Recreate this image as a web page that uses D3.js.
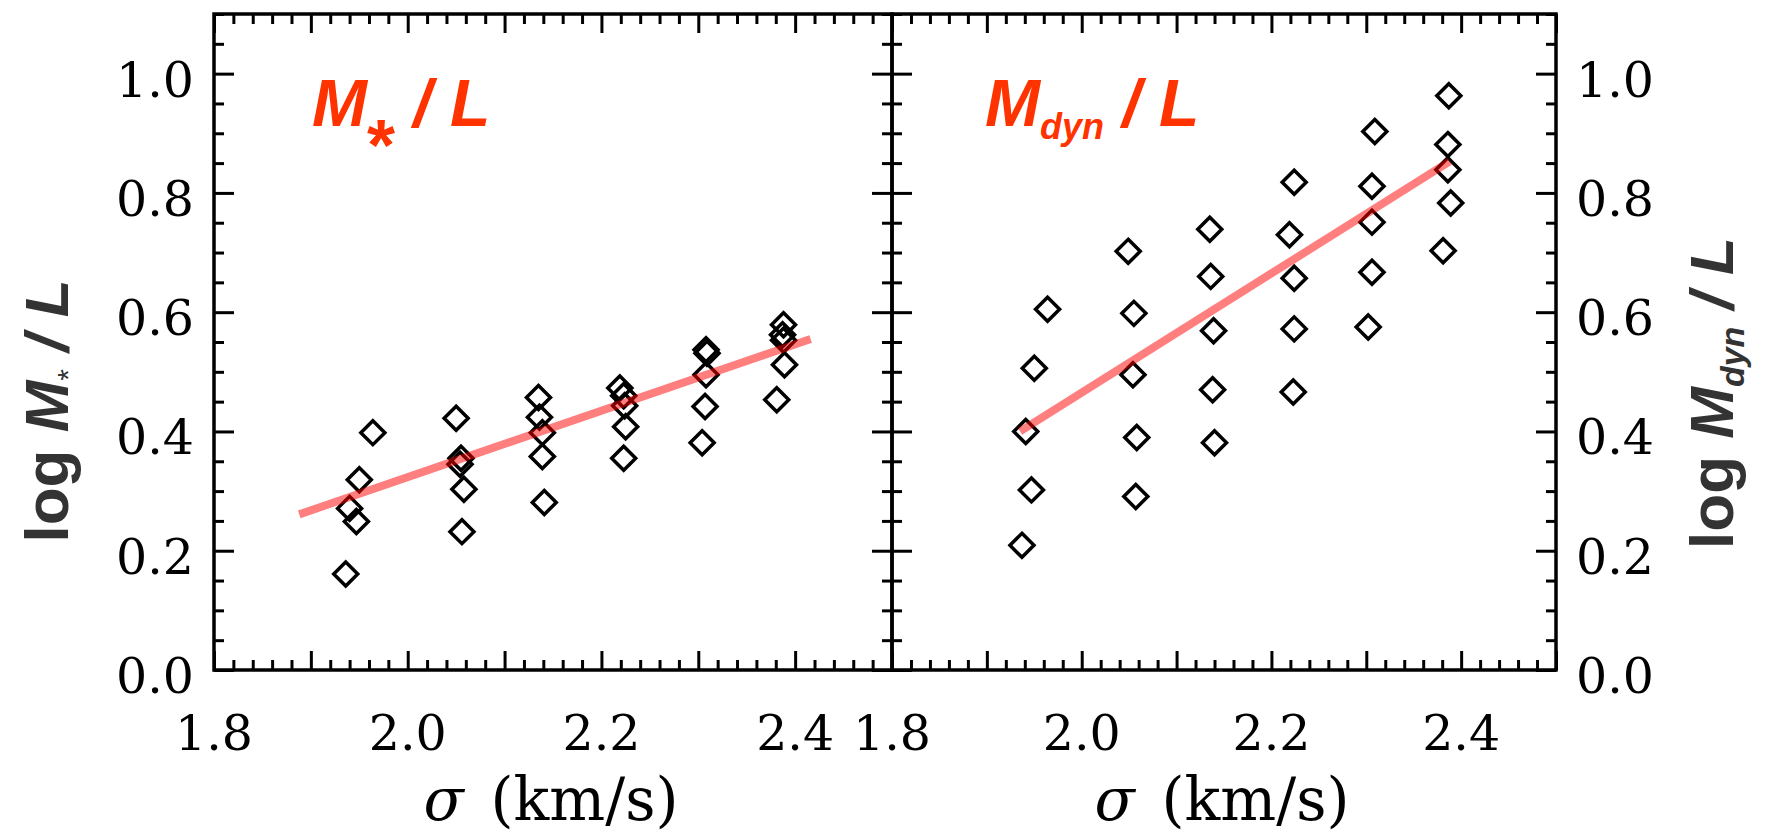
<!DOCTYPE html>
<html>
<head>
<meta charset="utf-8">
<script src="https://cdn.jsdelivr.net/npm/d3@7"></script>
<style>
  body { margin: 0; background: #fff; }
  svg { display: block; }
</style>
</head>
<body>
<svg id="chart" width="1768" height="836"></svg>
<script>
// Velocity dispersion (log sigma) and mass-to-light ratios for the sample
const starSigma = [1.964, 1.950, 1.940, 1.947, 1.936,
                   2.050, 2.055, 2.054, 2.058, 2.056,
                   2.135, 2.136, 2.139, 2.139, 2.141,
                   2.219, 2.223, 2.224, 2.225, 2.223,
                   2.308, 2.309, 2.308, 2.307, 2.304,
                   2.388, 2.387, 2.388, 2.389, 2.381];
const starML    = [0.398, 0.319, 0.271, 0.249, 0.161,
                   0.422, 0.355, 0.345, 0.303, 0.232,
                   0.457, 0.424, 0.398, 0.358, 0.281,
                   0.473, 0.460, 0.443, 0.408, 0.355,
                   0.537, 0.531, 0.495, 0.442, 0.381,
                   0.579, 0.562, 0.553, 0.512, 0.453];

const dynSigma  = [1.964, 1.950, 1.941, 1.947, 1.937,
                   2.049, 2.055, 2.054, 2.058, 2.057,
                   2.135, 2.136, 2.139, 2.138, 2.140,
                   2.224, 2.219, 2.224, 2.224, 2.223,
                   2.309, 2.306, 2.306, 2.306, 2.302,
                   2.387, 2.386, 2.386, 2.389, 2.381];
const dynML     = [0.605, 0.506, 0.400, 0.302, 0.209,
                   0.702, 0.598, 0.495, 0.390, 0.291,
                   0.739, 0.660, 0.569, 0.470, 0.381,
                   0.818, 0.730, 0.657, 0.572, 0.466,
                   0.903, 0.811, 0.751, 0.667, 0.575,
                   0.963, 0.881, 0.839, 0.783, 0.703];

// Linear fits (end points)
const starFitSigma = [1.888, 2.416];
const starFitML    = [0.261, 0.555];
const dynFitSigma  = [1.935, 2.388];
const dynFitML     = [0.400, 0.853];

// Axis ranges and ticks
const xDomain = [1.8, 2.5];
const yDomain = [0.0, 1.1];
const xMajorTicks = [1.8, 1.9, 2.0, 2.1, 2.2, 2.3, 2.4, 2.5];
const xTickLabels = [1.8, 2.0, 2.2, 2.4];
const yMajorTicks = [0.0, 0.2, 0.4, 0.6, 0.8, 1.0];
const yTickLabels = [0.0, 0.2, 0.4, 0.6, 0.8, 1.0];

const xMinorTicks = d3.range(0, 36).map(i => +(1.8 + i * 0.02).toFixed(2))
  .filter(v => !xMajorTicks.some(m => Math.abs(m - v) < 1e-6));
const yMinorTicks = d3.range(0, 23).map(i => +(i * 0.05).toFixed(2))
  .filter(v => !yMajorTicks.some(m => Math.abs(m - v) < 1e-6));

const svg = d3.select("#chart");
const plotTop = 14, plotBottom = 670;
const RED = "#ff3300";
const serif = "'DejaVu Serif', serif";
const sans = "'Liberation Sans', Arial, Helvetica, sans-serif";

const panels = [
  { x0: 214, x1: 892, sigma: starSigma, ml: starML, fitS: starFitSigma, fitM: starFitML, labelSide: "left" },
  { x0: 892, x1: 1556, sigma: dynSigma, ml: dynML, fitS: dynFitSigma, fitM: dynFitML, labelSide: "right" }
];

const y = d3.scaleLinear().domain(yDomain).range([plotBottom, plotTop]);

function tickGroup(parent, axis, transform) {
  const g = parent.append("g").attr("transform", transform).call(axis);
  g.select(".domain").remove();
  g.selectAll(".tick line").attr("stroke", "#000").attr("stroke-width", 3);
  g.selectAll(".tick text").remove();
  return g;
}

panels.forEach(p => {
  const x = d3.scaleLinear().domain(xDomain).range([p.x0, p.x1]);
  const g = svg.append("g");

  // data points: open diamonds
  const r = 12;
  const diamond = `M0,${-r}L${r},0L0,${r}L${-r},0Z`;
  g.append("g").selectAll("path")
    .data(p.sigma.map((s, i) => [s, p.ml[i]]))
    .join("path")
    .attr("d", diamond)
    .attr("transform", d => `translate(${x(d[0])},${y(d[1])})`)
    .attr("fill", "none")
    .attr("stroke", "#000")
    .attr("stroke-width", 3.5)
    .attr("stroke-linejoin", "miter");

  // best-fit line
  g.append("path")
    .datum(p.fitS.map((s, i) => [s, p.fitM[i]]))
    .attr("d", d3.line().x(d => x(d[0])).y(d => y(d[1])))
    .attr("fill", "none")
    .attr("stroke", "rgba(255,0,0,0.5)")
    .attr("stroke-width", 8);

  // ticks on all four sides, pointing inward
  tickGroup(g, d3.axisBottom(x).tickValues(xMajorTicks).tickSize(-19).tickSizeOuter(0), `translate(0,${plotBottom})`);
  tickGroup(g, d3.axisBottom(x).tickValues(xMinorTicks).tickSize(-10).tickSizeOuter(0), `translate(0,${plotBottom})`);
  tickGroup(g, d3.axisTop(x).tickValues(xMajorTicks).tickSize(-19).tickSizeOuter(0), `translate(0,${plotTop})`);
  tickGroup(g, d3.axisTop(x).tickValues(xMinorTicks).tickSize(-10).tickSizeOuter(0), `translate(0,${plotTop})`);
  tickGroup(g, d3.axisLeft(y).tickValues(yMajorTicks).tickSize(-20).tickSizeOuter(0), `translate(${p.x0},0)`);
  tickGroup(g, d3.axisLeft(y).tickValues(yMinorTicks).tickSize(-10).tickSizeOuter(0), `translate(${p.x0},0)`);
  tickGroup(g, d3.axisRight(y).tickValues(yMajorTicks).tickSize(-20).tickSizeOuter(0), `translate(${p.x1},0)`);
  tickGroup(g, d3.axisRight(y).tickValues(yMinorTicks).tickSize(-10).tickSizeOuter(0), `translate(${p.x1},0)`);

  // frame
  g.append("rect")
    .attr("x", p.x0).attr("y", plotTop)
    .attr("width", p.x1 - p.x0).attr("height", plotBottom - plotTop)
    .attr("fill", "none").attr("stroke", "#000").attr("stroke-width", 3.5);

  // x tick labels
  g.append("g").selectAll("text")
    .data(xTickLabels).join("text")
    .attr("x", d => x(d)).attr("y", 750)
    .attr("text-anchor", "middle")
    .attr("font-family", serif).attr("font-size", 49)
    .attr("fill", "#000")
    .text(d => d.toFixed(1));

  // y tick labels
  const left = p.labelSide === "left";
  g.append("g").selectAll("text")
    .data(yTickLabels).join("text")
    .attr("x", left ? p.x0 - 20 : p.x1 + 20)
    .attr("y", d => y(d) + 23)
    .attr("text-anchor", left ? "end" : "start")
    .attr("font-family", serif).attr("font-size", 49)
    .attr("fill", "#000")
    .text(d => d.toFixed(1));

  // x axis title
  const xt = g.append("text")
    .attr("x", (p.x0 + p.x1) / 2 - 2).attr("y", 820)
    .attr("text-anchor", "middle")
    .attr("font-family", serif).attr("font-size", 59)
    .attr("fill", "#000");
  xt.append("tspan").attr("font-style", "italic").text("σ");
  xt.append("tspan").attr("dx", 8).text(" (km/s)");
});

// y axis titles
const yl = svg.append("text")
  .attr("transform", "translate(68,411) rotate(-90)")
  .attr("text-anchor", "middle")
  .attr("font-family", sans).attr("font-weight", "bold").attr("font-size", 62)
  .attr("fill", "#333");
yl.append("tspan").text("log ");
yl.append("tspan").attr("font-style", "italic").text("M");
yl.append("tspan").attr("font-size", 30).attr("font-weight", "normal").attr("dy", 10).text("*");
yl.append("tspan").attr("font-style", "italic").attr("dy", -10).text(" / L");

const yr = svg.append("text")
  .attr("transform", "translate(1733,393) rotate(-90)")
  .attr("text-anchor", "middle")
  .attr("font-family", sans).attr("font-weight", "bold").attr("font-size", 62)
  .attr("fill", "#333");
yr.append("tspan").text("log ");
yr.append("tspan").attr("font-style", "italic").text("M");
yr.append("tspan").attr("font-style", "italic").attr("font-size", 34).attr("dy", 11).text("dyn");
yr.append("tspan").attr("font-style", "italic").attr("dy", -11).text(" / L");

// panel annotations
const a1 = svg.append("text")
  .attr("x", 312).attr("y", 126)
  .attr("font-family", sans).attr("font-weight", "bold").attr("font-style", "italic")
  .attr("font-size", 66).attr("fill", RED);
a1.append("tspan").text("M");
a1.append("tspan").attr("font-size", 72).attr("font-style", "normal").attr("dy", 44).text("*");
a1.append("tspan").attr("dy", -44).text(" / L");

const a2 = svg.append("text")
  .attr("x", 985).attr("y", 126)
  .attr("font-family", sans).attr("font-weight", "bold").attr("font-style", "italic")
  .attr("font-size", 66).attr("fill", RED);
a2.append("tspan").text("M");
a2.append("tspan").attr("font-size", 36).attr("dy", 13).text("dyn");
a2.append("tspan").attr("dy", -13).text(" / L");
</script>
</body>
</html>
